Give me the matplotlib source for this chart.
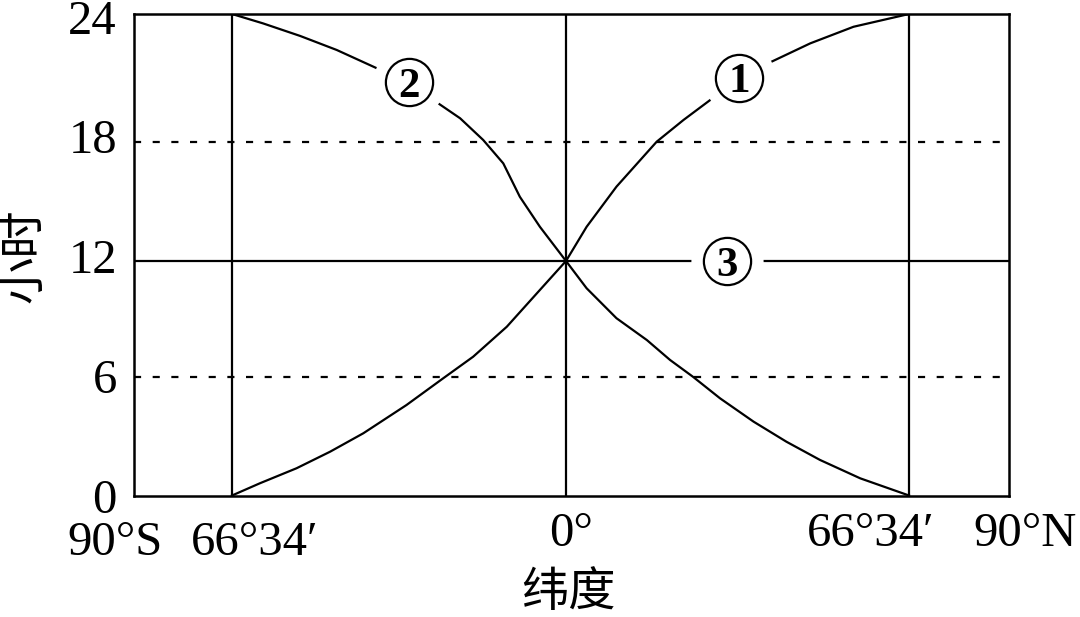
import numpy as np
import matplotlib.pyplot as plt
from matplotlib.transforms import ScaledTranslation

# latitude in degrees (south negative), hours of daylight
polar = 66.57
lat_ticks = [-90, -polar, 0, polar, 90]
lat_labels = ['90°S', '66°34′', '0°', '66°34′', '90°N']
hour_ticks = [0, 6, 12, 18, 24]

lat1 = [-66.57, -61.0, -53.7, -47.0, -40.4, -31.8, -24.5, -18.5, -11.8, -5.8, 0,
        4.0, 9.8, 17.6, 22.8, 28.6, 33.6, 39.9, 47.4, 55.8, 66.57]
hrs1 = [0, 0.62, 1.38, 2.22, 3.15, 4.58, 5.93, 7.05, 8.60, 10.33, 12,
        13.72, 15.74, 18.0, 19.02, 20.07, 20.9, 21.76, 22.62, 23.40, 24]

lat2 = [-66.57, -60.4, -53.0, -45.7, -37.7, -31.3, -25.45, -21.1, -16.5, -12.5, -9.2, -5.2, 0,
        4.0, 9.8, 15.7, 20.2, 24.7, 29.9, 36.4, 42.8, 49.3, 57.1, 66.57]
hrs2 = [24, 23.56, 22.97, 22.31, 21.45, 20.7, 19.80, 19.10, 18.08, 16.91, 15.23, 13.72, 12,
        10.59, 9.04, 7.91, 6.88, 6.0, 4.92, 3.74, 2.72, 1.80, 0.87, 0]

lat3 = [-90, 90]
hrs3 = [12, 12]

# curve labels: (text, lat, hours)
marks = [('1', 33.6, 21.0), ('2', -31.3, 20.8), ('3', 31.2, 12)]

# the drawing is not to scale: both axes are piecewise linear between the ticks
xpos_anchor = [0, 98, 432, 775, 875]
ypos_anchor = [0, 118.5, 234.5, 353.8, 481.5]


def xfwd(x):
    return np.interp(x, lat_ticks, xpos_anchor)


def xinv(p):
    return np.interp(p, xpos_anchor, lat_ticks)


def yfwd(y):
    return np.interp(y, hour_ticks, ypos_anchor)


def yinv(p):
    return np.interp(p, ypos_anchor, hour_ticks)


serif = ['Liberation Serif', 'DejaVu Serif']
cjk = ['Noto Sans CJK SC', 'DejaVu Sans']

fig = plt.figure(figsize=(10.8, 6.17), dpi=100)
ax = fig.add_axes([134 / 1080, 1 - 495.5 / 617, 875 / 1080, 481.5 / 617])
ax.set_xscale('function', functions=(xfwd, xinv))
ax.set_yscale('function', functions=(yfwd, yinv))
ax.set_xlim(-90, 90)
ax.set_ylim(0, 24)

for s in ax.spines.values():
    s.set_linewidth(1.8)

for x in [-polar, 0, polar]:
    ax.axvline(x, color='black', lw=1.6)
for y in [6, 18]:
    ax.axhline(y, color='black', lw=1.6, ls=(0, (3.2, 5.2)))

ax.plot(lat1, hrs1, color='black', lw=1.6)
ax.plot(lat2, hrs2, color='black', lw=1.6)
ax.plot(lat3, hrs3, color='black', lw=1.6)

for t, x, y in marks:
    ax.plot(x, y, 'o', ms=52, mfc='white', mec='none', zorder=5)
    ax.plot(x, y, 'o', ms=34, mfc='white', mec='black', mew=1.6, zorder=6)
    ax.text(x, y, t, ha='center', va='center_baseline', fontsize=31,
            fontweight='bold', family=serif, zorder=7)

ax.set_xticks([])
ax.set_yticks([])
ax.minorticks_off()

# tick labels as plain texts, with the small pixel shifts of the drawing
ydy = [17.5, 16, 12, 11.3, 20]
for y, oy in zip(hour_ticks, ydy):
    tr = ax.get_yaxis_transform() + ScaledTranslation(-17 / 100, -oy / 100, fig.dpi_scale_trans)
    ax.text(0, y, str(y), transform=tr, ha='right', va='baseline',
            fontsize=35, family=serif)

xdx = [-19, 23, 5, -38, 16]
xdy = [59.5, 59.5, 51, 51, 51]
for x, lab, ox, oy in zip(lat_ticks, lat_labels, xdx, xdy):
    tr = ax.get_xaxis_transform() + ScaledTranslation(ox / 100, -oy / 100, fig.dpi_scale_trans)
    ax.text(x, 0, lab, transform=tr, ha='center', va='baseline',
            fontsize=35, family=serif)

fig.text(568 / 1080, 1 - 593 / 617, '纬度', ha='center', va='center',
         fontsize=34, family=cjk)
fig.text(24 / 1080, 1 - 256 / 617, '小时', ha='center', va='center',
         rotation=90, fontsize=34, family=cjk)

fig.savefig('out.png', dpi=100)
